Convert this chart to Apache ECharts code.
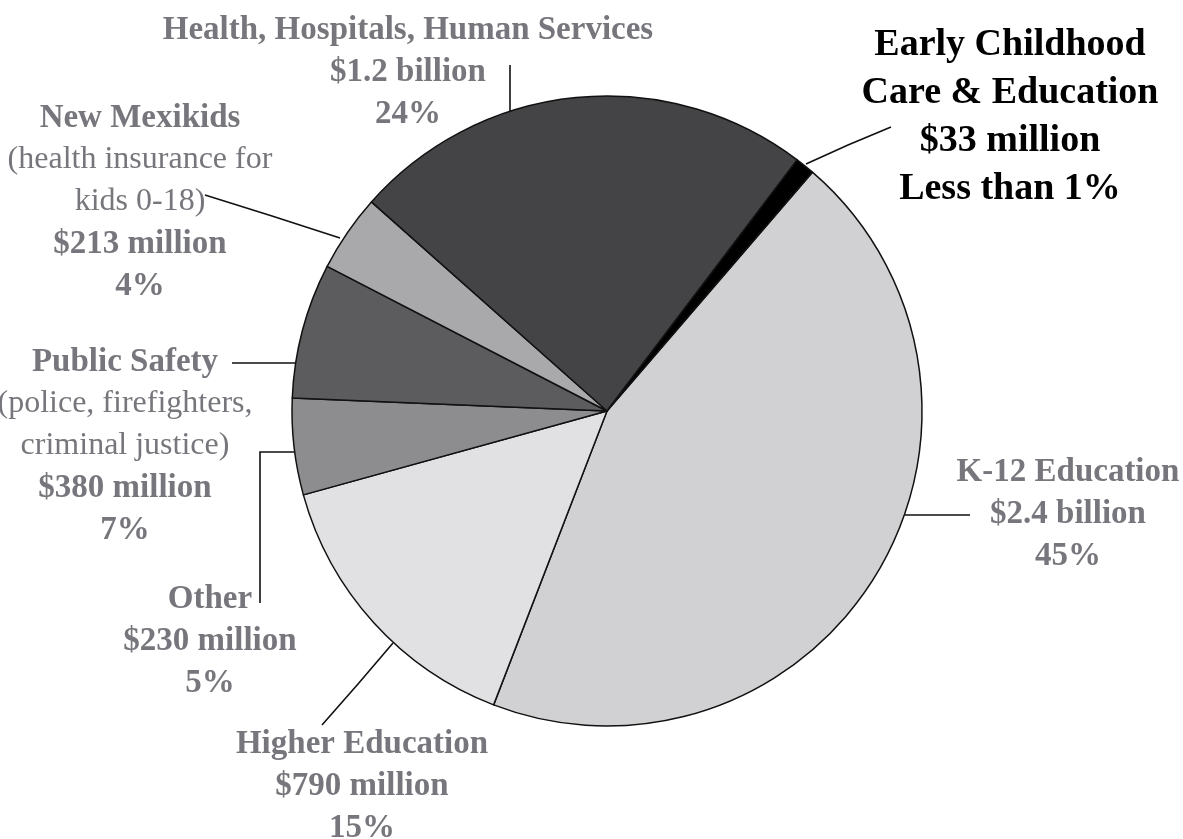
<!DOCTYPE html>
<html>
<head>
<meta charset="utf-8">
<script src="https://cdn.jsdelivr.net/npm/echarts@6/dist/echarts.min.js"></script>
<style>
html,body{margin:0;padding:0;background:#fff;}
#chart{width:1183px;height:839px;}
</style>
</head>
<body>
<div id="chart"></div>
<script>
// ---- data (clockwise from the K-12 slice) ----
const categories = ['K-12 Education', 'Higher Education', 'Other', 'Public Safety', 'New Mexikids', 'Health, Hospitals, Human Services', 'Early Childhood\nCare & Education'];
const notes = ['', '', '', '(police, firefighters,\ncriminal justice)', '(health insurance for\nkids 0-18)', '', ''];
const amounts = ['$2.4 billion', '$790 million', '$230 million', '$380 million', '$213 million', '$1.2 billion', '$33 million'];
const shares = [45, 15, 5, 7, 4, 24, 1];
const shareLabels = ['45%', '15%', '5%', '7%', '4%', '24%', 'Less than 1%'];

// ---- styling / layout ----
const sliceColors = ['#d1d1d3', '#e1e1e3', '#8d8d90', '#5c5c5f', '#a9a9ab', '#444446', '#000000'];
const GRAY = '#76767c';
const FONT = '"Liberation Serif", "DejaVu Serif", serif';
const labelPlaces = [
  {x: 1068, y: 514, line: [[905, 515], [938, 515], [970, 515]]},
  {x: 362, y: 786, line: [[393, 643], [358, 684], [322, 725]]},
  {x: 210, y: 641, line: [[260, 603], [260, 452], [295, 452]]},
  {x: 125, y: 446, line: [[232, 363], [264, 363], [296, 363]]},
  {x: 140, y: 202, line: [[205, 195], [272, 216], [340, 238]]},
  {x: 408, y: 72, line: [[510, 65], [510, 88], [510, 111]]},
  {x: 1010, y: 117, line: [[806, 164], [848, 145], [891, 127]]}
];

const chart = echarts.init(document.getElementById('chart'), null, {renderer: 'canvas'});

function labelText(i) {
  const big = (i === 6);
  const b = big ? 'eb' : 'b';
  const out = [];
  categories[i].split('\n').forEach(s => out.push('{' + b + '|' + s + '}'));
  if (notes[i]) notes[i].split('\n').forEach(s => out.push('{r|' + s + '}'));
  out.push('{' + b + '|' + amounts[i] + '}');
  out.push('{' + b + '|' + shareLabels[i] + '}');
  return out.join('\n');
}

chart.setOption({
  animation: false,
  series: [{
    type: 'pie',
    center: [607, 411],
    radius: 315,
    startAngle: 49.3,
    clockwise: true,
    avoidLabelOverlap: false,
    silent: true,
    emphasis: {disabled: true},
    data: shares.map((v, i) => ({
      value: v,
      name: categories[i],
      itemStyle: {color: sliceColors[i]}
    })),
    itemStyle: {borderColor: '#111', borderWidth: 1.5},
    label: {
      show: true,
      position: 'outside',
      formatter: p => labelText(p.dataIndex),
      align: 'center',
      rich: {
        b: {fontFamily: FONT, fontWeight: 'bold', fontSize: 33, lineHeight: 42, color: GRAY, align: 'center'},
        r: {fontFamily: FONT, fontWeight: 'normal', fontSize: 32, lineHeight: 42, color: GRAY, align: 'center'},
        eb: {fontFamily: FONT, fontWeight: 'bold', fontSize: 38, lineHeight: 48, color: '#000', align: 'center'}
      }
    },
    labelLine: {
      show: true,
      lineStyle: {color: '#111', width: 1.6}
    },
    labelLayout: function (p) {
      const L = labelPlaces[p.dataIndex];
      return {
        x: L.x,
        y: L.y,
        align: 'center',
        verticalAlign: 'middle',
        labelLinePoints: L.line
      };
    }
  }]
});
</script>
</body>
</html>
